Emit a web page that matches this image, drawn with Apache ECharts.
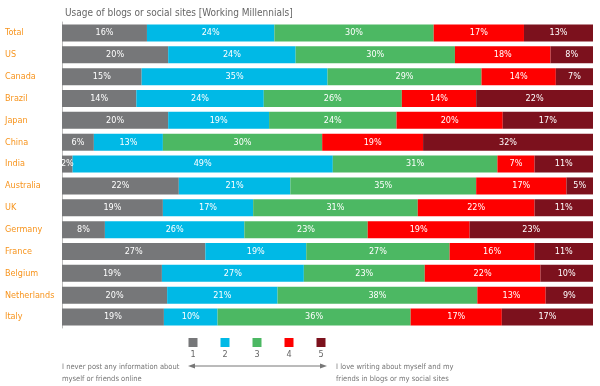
<!DOCTYPE html>
<html>
<head>
<meta charset="utf-8">
<script src="https://cdn.jsdelivr.net/npm/echarts@6/dist/echarts.min.js"></script>
<style>html,body{margin:0;padding:0;background:#fff}#c{width:600px;height:386px}</style>
</head>
<body>
<div id="c"></div>
<script>
var categories = ['Total','US','Canada','Brazil','Japan','China','India','Australia','UK','Germany','France','Belgium','Netherlands','Italy'];
var s1 = [16,20,15,14,20,6,2,22,19,8,27,19,20,19];
var s2 = [24,24,35,24,19,13,49,21,17,26,19,27,21,10];
var s3 = [30,30,29,26,24,30,31,35,31,23,27,23,38,36];
var s4 = [17,18,14,14,20,19,7,17,22,19,16,22,13,17];
var s5 = [13,8,7,22,17,32,11,5,11,23,11,10,9,17];
var seriesNames = ['1','2','3','4','5'];
var colors = ['#767779','#00b9e6','#4cb863','#fe0000','#7c111d'];
var leftNote = 'I never post any information about\nmyself or friends online';
var rightNote = 'I love writing about myself and my\nfriends in blogs or my social sites';
var titleText = 'Usage of blogs or social sites [Working Millennials]';

var raw = [s1,s2,s3,s4,s5];
var sums = categories.map(function(_,i){return raw.reduce(function(a,s){return a+s[i];},0);});
var FONT = "'Liberation Sans Narrow','DejaVu Sans Condensed','Open Sans',sans-serif";

var series = raw.map(function(arr,k){
  return {
    name: seriesNames[k], type:'bar', stack:'all', barWidth:17,
    itemStyle:{color:colors[k]},
    label:{show:true, position:'inside', color:'#fff', fontSize:9, fontFamily:FONT,
      formatter:function(p){return arr[p.dataIndex]+'%';}},
    data: arr.map(function(v,i){return v/sums[i]*100;})
  };
});

var chart = echarts.init(document.getElementById('c'));
var legendX = [193,225,257,289,321];
var graphics = [];
legendX.forEach(function(x,k){
  graphics.push({type:'rect', left:x-4.5, top:338, shape:{width:9,height:9}, style:{fill:colors[k]}});
  graphics.push({type:'text', left:x-2.5, top:350, style:{text:seriesNames[k], fill:'#666', fontSize:9, fontFamily:FONT}});
});
graphics.push({type:'line', shape:{x1:191,y1:366,x2:324,y2:366}, style:{stroke:'#777',lineWidth:1}});
graphics.push({type:'polygon', shape:{points:[[188,366],[195,363.5],[195,368.5]]}, style:{fill:'#777'}});
graphics.push({type:'polygon', shape:{points:[[327,366],[320,363.5],[320,368.5]]}, style:{fill:'#777'}});
graphics.push({type:'text', left:62, top:361, style:{text:leftNote, fill:'#777', fontSize:7.5, lineHeight:12, fontFamily:FONT}});
graphics.push({type:'text', left:336, top:361, style:{text:rightNote, fill:'#777', fontSize:7.5, lineHeight:12, fontFamily:FONT}});

chart.setOption({
  animation:false,
  title:{text:titleText, left:60, top:3, textStyle:{color:'#666', fontSize:10, fontWeight:'normal', fontFamily:FONT}},
  grid:{left:62, right:7, top:22, bottom:58, containLabel:false},
  xAxis:{type:'value', min:0, max:100, show:false},
  yAxis:{type:'category', data:categories, inverse:true,
    axisLine:{show:true, lineStyle:{color:'#bbb', width:1}}, axisTick:{show:false},
    axisLabel:{color:'#f7941d', fontSize:9, fontFamily:FONT, align:'left', margin:57}},
  series:series,
  graphic:graphics
});
</script>
</body>
</html>
